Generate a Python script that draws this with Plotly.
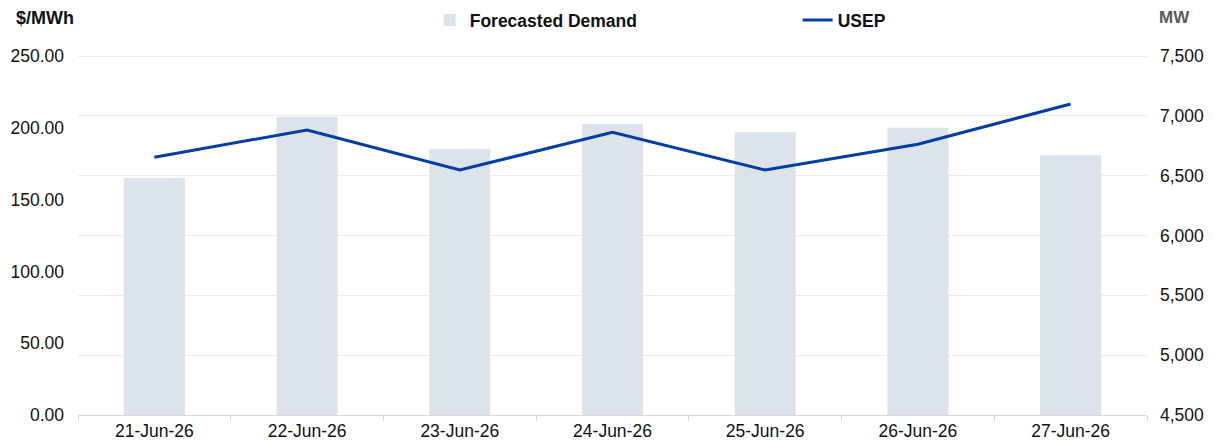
import plotly.graph_objects as go

dates = ["21-Jun-26", "22-Jun-26", "23-Jun-26", "24-Jun-26", "25-Jun-26", "26-Jun-26", "27-Jun-26"]
forecasted_demand_mw = [6480, 6993, 6723, 6932, 6862, 6901, 6670]
usep_price = [179.5, 198.5, 170.6, 196.9, 170.6, 188.5, 216.6]

left_ticks = [0, 50, 100, 150, 200, 250]
right_ticks = [4500, 5000, 5500, 6000, 6500, 7000, 7500]

FONT = "Arial, Liberation Sans, sans-serif"
FS = 17.5
PLOT_W = 1069
PLOT_H = 363
RIGHT_TOP = 4500 + 3000 * PLOT_H / 359
LEFT_TOP = 250 * PLOT_H / 359

fig = go.Figure()
fig.add_trace(go.Bar(
    x=dates, y=forecasted_demand_mw, name="Forecasted Demand",
    marker=dict(color="#dce3ea", line=dict(width=0)),
    width=0.4, yaxis="y",
))
fig.add_trace(go.Scatter(
    x=dates, y=usep_price, name="USEP", mode="lines",
    line=dict(color="#003da5", width=3), yaxis="y2",
))

fig.update_layout(
    width=1217, height=441,
    margin=dict(l=78, r=70, t=52, b=26, autoexpand=False),
    paper_bgcolor="white", plot_bgcolor="white",
    font=dict(family=FONT, size=FS, color="#111111"),
    showlegend=True,
    legend=dict(
        orientation="h", x=0.329, xanchor="left", y=0.995, yanchor="top",
        yref="container", xref="paper",
        font=dict(family=FONT, size=FS, color="#111111", weight="bold"),
        entrywidth=323, bgcolor="rgba(0,0,0,0)", tracegroupgap=0,
    ),
    bargap=0.6,
    xaxis=dict(
        type="category", showgrid=False, showline=True, linecolor="#d9d9d9", linewidth=1,
        ticks="outside", tickson="boundaries", ticklen=5, tickcolor="#d9d9d9",
        tickfont=dict(size=FS, color="#111111"), zeroline=False, automargin=False,
    ),
    yaxis=dict(
        side="right", range=[4500, RIGHT_TOP], tickvals=right_ticks, tickformat=",",
        showgrid=True, gridcolor="#ececec", gridwidth=1, zeroline=False,
        showline=False, ticks="", ticklabelstandoff=12, automargin=False,
        tickfont=dict(size=FS, color="#111111"),
    ),
    yaxis2=dict(
        side="left", overlaying="y", range=[0, LEFT_TOP], tickvals=left_ticks,
        tickformat=".2f", showgrid=False, zeroline=False, showline=False, ticks="",
        ticklabelstandoff=13, automargin=False, tickfont=dict(size=FS, color="#111111"),
    ),
    annotations=[
        dict(text="<b>$/MWh</b>", xref="paper", yref="paper", x=-64 / PLOT_W, xanchor="left",
             y=1 + 34 / PLOT_H, yanchor="middle", showarrow=False,
             font=dict(family=FONT, size=18, color="#111111")),
        dict(text="<b>MW</b>", xref="paper", yref="paper", x=1 + 10 / PLOT_W, xanchor="left",
             y=1 + 34 / PLOT_H, yanchor="middle", showarrow=False,
             font=dict(family=FONT, size=17, color="#595959")),
    ],
)

fig.write_html(
    "out.html",
    config={"displayModeBar": False},
    post_script="document.body.style.margin='0';document.body.style.overflow='hidden';",
)
